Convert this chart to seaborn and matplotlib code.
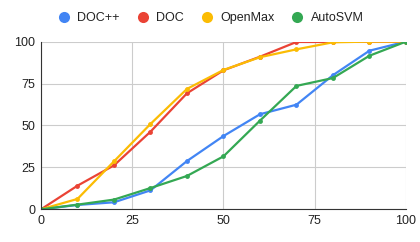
import pandas as pd
import matplotlib.pyplot as plt
import seaborn as sns
from matplotlib.lines import Line2D

x = [0, 10, 20, 30, 40, 50, 60, 70, 80, 90, 100]
doc_pp = [0, 2.6, 4.2, 11.3, 28.8, 43.7, 56.7, 62.4, 80, 94.6, 100]
doc = [0, 14.1, 26.2, 46.3, 69.2, 82.9, 91, 99.8, 99.8, 100, 100]
openmax = [0, 6.2, 28.6, 50.9, 71.8, 83.1, 90.7, 95.4, 99.6, 100, 100]
autosvm = [0, 2.8, 5.8, 12.7, 19.9, 31.6, 52.9, 73.6, 78.3, 91.6, 100]

names = ['DOC++', 'DOC', 'OpenMax', 'AutoSVM']
colors = ['#4285F4', '#EA4335', '#FBBC04', '#34A853']

df = pd.DataFrame({'x': x * 4,
                   'y': doc_pp + doc + openmax + autosvm,
                   'method': sum([[n] * len(x) for n in names], [])})

sns.set_style('white')
plt.rcParams['font.family'] = ['Liberation Sans', 'DejaVu Sans']

fig = plt.figure(figsize=(4.2, 2.42), dpi=100)
ax = fig.add_axes([0.0976, 0.135, 0.869, 0.693])

sns.lineplot(data=df, x='x', y='y', hue='method', palette=colors, hue_order=names,
             marker='o', markersize=3.5, markeredgewidth=0, linewidth=1.6,
             legend=False, ax=ax)

ax.set_xlim(0, 100)
ax.set_ylim(0, 100)
ax.set_xticks([0, 25, 50, 75, 100])
ax.set_yticks([0, 25, 50, 75, 100])
ax.grid(True, color='#cccccc', linewidth=0.8)
ax.set_axisbelow(True)
for s in ['top', 'right']:
    ax.spines[s].set_visible(False)
ax.spines['left'].set_color('#333333')
ax.spines['bottom'].set_color('#333333')
ax.spines['left'].set_linewidth(0.8)
ax.spines['bottom'].set_linewidth(0.8)
ax.tick_params(length=0, labelsize=9, colors='#222222', pad=4)
ax.set_xlabel('')
ax.set_ylabel('')

handles = [Line2D([], [], linestyle='none', marker='o', markersize=8,
                  markerfacecolor=c, markeredgewidth=0) for c in colors]
fig.legend(handles, names, loc='center', bbox_to_anchor=(0.5, 0.925), ncol=4,
           frameon=False, fontsize=9, handletextpad=0.45, handlelength=1.2,
           columnspacing=1.25, labelcolor='#222222')

fig.savefig('out.png', dpi=100)
